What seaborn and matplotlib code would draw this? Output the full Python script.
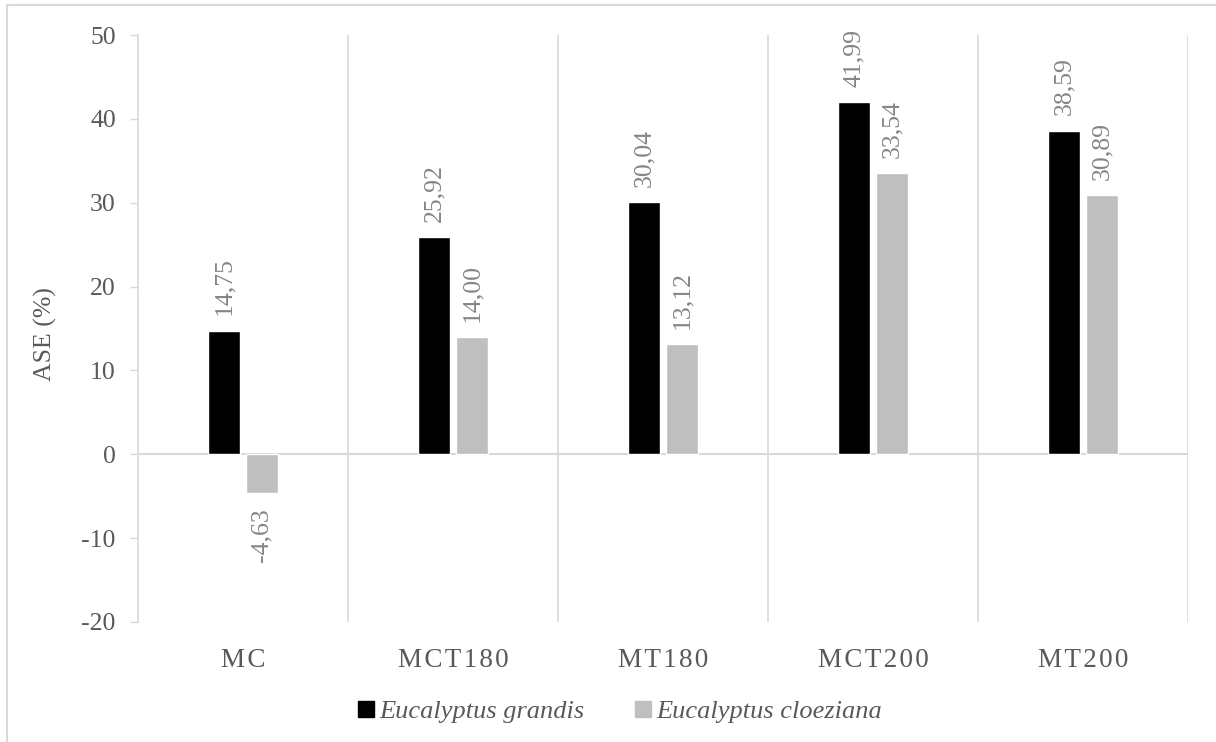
import numpy as np
import pandas as pd
import matplotlib
matplotlib.use("Agg")
import matplotlib.pyplot as plt
import matplotlib.patches as mpatches
import seaborn as sns

treatments = ["MC", "MCT180", "MT180", "MCT200", "MT200"]
grandis = [14.75, 25.92, 30.04, 41.99, 38.59]
cloeziana = [-4.63, 14.00, 13.12, 33.54, 30.89]
species = ["Eucalyptus grandis", "Eucalyptus cloeziana"]
y_ticks = [-20, -10, 0, 10, 20, 30, 40, 50]

df = pd.DataFrame({
    "treatment": treatments * 2,
    "species": [species[0]] * len(treatments) + [species[1]] * len(treatments),
    "ase": grandis + cloeziana,
})

sns.set_theme(style="white")
plt.rcParams["font.family"] = ["Liberation Serif", "DejaVu Serif"]

AXIS_GREY = "#d9d9d9"
TEXT_GREY = "#595959"
LABEL_GREY = "#858585"

fig = plt.figure(figsize=(12.16, 7.42), dpi=100)
ax = fig.add_axes([138 / 1216, 1 - 622 / 742, 1050 / 1216, 587 / 742])

sns.barplot(data=df, x="treatment", y="ase", hue="species", order=treatments,
            hue_order=species, palette=["#000000", "#bfbfbf"],
            width=0.36, gap=0.155, saturation=1, ax=ax, legend=False)

for container, vals in zip(ax.containers, [grandis, cloeziana]):
    ax.bar_label(container, labels=[f"{v:.2f}".replace(".", ",") for v in vals],
                 rotation=90, padding=11, fontsize=18.5, color=LABEL_GREY)

ax.set_ylim(-20, 50)
ax.set_xlim(-0.5, 4.5)
ax.set_yticks(y_ticks)
ax.set_yticklabels([str(t) for t in y_ticks], fontsize=18.5, color=TEXT_GREY)
# letter-spaced category names
spaced = ["\u200a".join(t) for t in treatments]
ax.set_xticks(range(len(treatments)))
ax.set_xticklabels(spaced, fontsize=19.5, color=TEXT_GREY)
ax.tick_params(axis="x", length=0, pad=19)
ax.tick_params(axis="y", length=6, width=1, color=AXIS_GREY, direction="out", pad=10, left=True)

# category separators and zero line
ax.set_xticks(np.arange(0.5, len(treatments), 1), minor=True)
ax.tick_params(axis="x", which="minor", length=0)
ax.grid(False)
ax.grid(which="minor", axis="x", color=AXIS_GREY, linewidth=1.2)
ax.axhline(0, color=AXIS_GREY, linewidth=1.5, zorder=0.5)

for side in ["top", "right", "bottom"]:
    ax.spines[side].set_visible(False)
ax.spines["left"].set_color(AXIS_GREY)
ax.spines["left"].set_linewidth(1.2)

ax.set_xlabel("")
ax.set_ylabel("ASE (%)", fontsize=18.5, color=TEXT_GREY)
ax.yaxis.set_label_coords(-0.077, 0.49)

handles = [mpatches.Patch(color=c) for c in ["#000000", "#bfbfbf"]]
fig.legend(handles, species, loc="center", bbox_to_anchor=(620 / 1216, 1 - 712 / 742),
           ncol=2, frameon=False, handlelength=0.6, handleheight=0.6,
           handletextpad=0.2, columnspacing=1.9,
           prop={"family": ["Liberation Serif", "DejaVu Serif"], "style": "italic", "size": 19},
           labelcolor=TEXT_GREY)

# outer chart frame
fig.add_artist(mpatches.Rectangle((7 / 1216, -0.1), 1.2, 1 - 5 / 742 + 0.1,
                                  transform=fig.transFigure, fill=False,
                                  edgecolor=AXIS_GREY, linewidth=1.5))

fig.savefig("out.png", dpi=100)
